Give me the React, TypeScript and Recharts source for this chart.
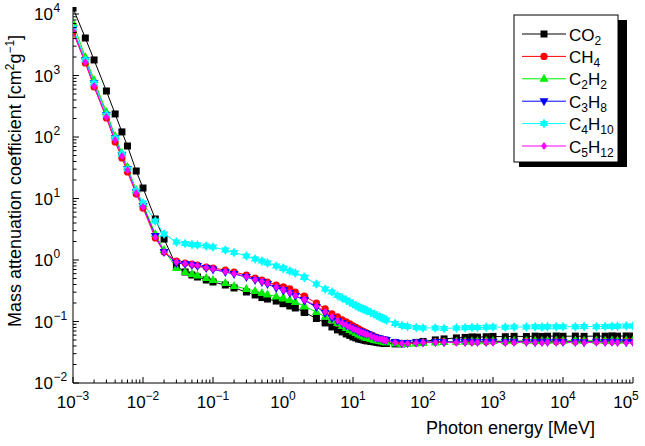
import React from 'react';
import { LineChart, Line, XAxis, YAxis } from 'recharts';

// Photon energies [MeV]
const ENERGY_MEV = [
  0.001, 0.0015, 0.002, 0.003, 0.004, 0.005, 0.006, 0.008,
  0.01, 0.015, 0.02, 0.03, 0.04, 0.05, 0.06, 0.08,
  0.1, 0.15, 0.2, 0.3, 0.4, 0.5, 0.6, 0.8,
  1, 1.022, 1.25, 1.5, 2, 2.044, 3, 4, 5, 6, 7, 8, 9,
  10, 11, 12, 13, 14, 15, 16, 18, 20, 22, 24, 26, 28, 30,
  40, 50, 60, 80,
  100, 150, 200, 300, 400, 500, 600, 800,
  1000, 1500, 2000, 3000, 4000, 5000, 6000, 8000,
  10000, 15000, 20000, 30000, 40000, 50000, 60000, 80000, 100000,
];

const CO2 = [
  12500, 4070, 1790, 560, 237, 121, 71.4, 28.0,
  14.8, 4.64, 2.19, 0.8, 0.638, 0.57, 0.529, 0.473,
  0.439, 0.392, 0.351, 0.302, 0.27, 0.245, 0.232, 0.215,
  0.196, 0.195, 0.179, 0.166, 0.143, 0.14, 0.112, 0.0948, 0.0816, 0.073, 0.0677, 0.0628, 0.0594,
  0.0561, 0.0541, 0.0521, 0.0511, 0.0502, 0.0492, 0.0483, 0.0474, 0.0466, 0.0457, 0.0449, 0.0449, 0.044, 0.044,
  0.0432, 0.0432, 0.044, 0.0457,
  0.0474, 0.0502, 0.0521, 0.0541, 0.0551, 0.0561, 0.0558, 0.0565,
  0.0572, 0.0566, 0.0574, 0.057, 0.0578, 0.0572, 0.0576, 0.0581,
  0.0575, 0.0579, 0.0574, 0.058, 0.0577, 0.0583, 0.0578, 0.0582, 0.058,
];

const CH4 = [
  5095, 1600, 650, 204, 82.9, 45.6, 27.0, 11.8,
  7.0, 2.28, 1.35, 0.963, 0.894, 0.861, 0.829, 0.769,
  0.741, 0.688, 0.638, 0.57, 0.51, 0.473, 0.439, 0.392,
  0.364, 0.362, 0.338, 0.302, 0.26, 0.255, 0.2, 0.16, 0.133, 0.119, 0.106, 0.0984, 0.0913,
  0.0848, 0.08, 0.0758, 0.0716, 0.069, 0.0665, 0.064, 0.0605, 0.0572, 0.0551, 0.0531, 0.0511, 0.0502, 0.0483,
  0.0457, 0.044, 0.044, 0.0449,
  0.0457, 0.0466, 0.047, 0.0466, 0.0472, 0.0468, 0.0474, 0.047,
  0.0476, 0.047, 0.0474, 0.0478, 0.0472, 0.0476, 0.048, 0.0474,
  0.0478, 0.0474, 0.048, 0.0476, 0.0481, 0.0477, 0.0479, 0.0482, 0.0478,
];

const C2H2 = [
  7140, 2000, 845, 255, 104, 54.9, 32.5, 13.7,
  8.14, 2.65, 1.454, 0.741, 0.638, 0.592, 0.56, 0.51,
  0.473, 0.423, 0.378, 0.338, 0.313, 0.291, 0.275, 0.255,
  0.241, 0.236, 0.224, 0.208, 0.179, 0.176, 0.143, 0.119, 0.106, 0.0948, 0.0848, 0.0786, 0.073,
  0.069, 0.0652, 0.0617, 0.0594, 0.0572, 0.0551, 0.0541, 0.0521, 0.0502, 0.0492, 0.0483, 0.0474, 0.0466, 0.0457,
  0.044, 0.0432, 0.0432, 0.044,
  0.0449, 0.0457, 0.0466, 0.047, 0.0474, 0.0478, 0.0476, 0.0481,
  0.0484, 0.048, 0.0486, 0.0483, 0.0488, 0.0484, 0.0487, 0.049,
  0.0486, 0.0489, 0.0485, 0.049, 0.0487, 0.0491, 0.0488, 0.049, 0.0489,
];

const C3H8 = [
  5700, 1787, 755, 228, 96.3, 51, 30.2, 12.8,
  7.55, 2.46, 1.349, 0.894, 0.861, 0.829, 0.799, 0.741,
  0.701, 0.638, 0.592, 0.529, 0.473, 0.439, 0.407, 0.351,
  0.325, 0.319, 0.291, 0.26, 0.224, 0.219, 0.172, 0.138, 0.114, 0.102, 0.0948, 0.088, 0.0816,
  0.0772, 0.073, 0.0703, 0.0677, 0.0652, 0.064, 0.0628, 0.0594, 0.0561, 0.0541, 0.0531, 0.0521, 0.0511, 0.0502,
  0.0466, 0.0449, 0.0449, 0.0457,
  0.0457, 0.0466, 0.0462, 0.0468, 0.0464, 0.047, 0.0466, 0.0463,
  0.0468, 0.0464, 0.0469, 0.0465, 0.0461, 0.0467, 0.0463, 0.0468,
  0.0464, 0.0466, 0.0462, 0.0467, 0.0463, 0.0468, 0.0465, 0.0461, 0.0466,
];

const C4H10 = [
  5920, 1787, 755, 228, 96.3, 52.9, 30.2, 13.2,
  8.45, 4.31, 2.65, 1.962, 1.855, 1.787, 1.754, 1.689,
  1.627, 1.454, 1.325, 1.161, 1.038, 0.963, 0.894, 0.799,
  0.741, 0.727, 0.662, 0.615, 0.529, 0.519, 0.407, 0.338, 0.302, 0.265, 0.241, 0.224, 0.208,
  0.193, 0.182, 0.172, 0.166, 0.16, 0.154, 0.149, 0.14, 0.133, 0.125, 0.119, 0.114, 0.11, 0.106,
  0.093, 0.0864, 0.0832, 0.0801,
  0.0786, 0.0786, 0.0772, 0.0786, 0.079, 0.0801, 0.0796, 0.0805,
  0.0816, 0.0808, 0.0816, 0.0812, 0.082, 0.0816, 0.0822, 0.0818,
  0.0824, 0.082, 0.0828, 0.0824, 0.0832, 0.0836, 0.084, 0.0844, 0.0848,
];

const C5H12 = [
  5290, 1658, 675, 211, 89.4, 49.1, 29.1, 12.3,
  7.28, 2.37, 1.349, 0.928, 0.877, 0.845, 0.814, 0.755,
  0.714, 0.65, 0.603, 0.539, 0.482, 0.447, 0.415, 0.364,
  0.332, 0.325, 0.296, 0.265, 0.228, 0.224, 0.179, 0.143, 0.119, 0.104, 0.0948, 0.088, 0.0816,
  0.0772, 0.073, 0.0703, 0.0677, 0.0652, 0.0628, 0.0617, 0.0583, 0.0551, 0.0531, 0.0521, 0.0511, 0.0502, 0.0492,
  0.0457, 0.044, 0.044, 0.0449,
  0.0457, 0.0457, 0.0461, 0.0455, 0.046, 0.0456, 0.0462, 0.0458,
  0.0455, 0.046, 0.0456, 0.0461, 0.0457, 0.0453, 0.0459, 0.0455,
  0.046, 0.0456, 0.0452, 0.0458, 0.0454, 0.0459, 0.0455, 0.0451, 0.0456,
];

const X_DOMAIN: [number, number] = [1e-3, 1e5];
const Y_DOMAIN: [number, number] = [1e-2, 1.3e4];
const X_EXPONENTS = [-3, -2, -1, 0, 1, 2, 3, 4, 5];
const Y_EXPONENTS = [-2, -1, 0, 1, 2, 3, 4];
const FRAME_TICKS = [0.1, 0.2, 0.3, 0.4, 0.5, 0.6, 0.7, 0.8, 0.9];

const X_TITLE = 'Photon energy [MeV]';
const Y_TITLE_PARTS: [string, 'n' | 'sup'][] = [
  ['Mass attenuation coefficient [cm', 'n'],
  ['2', 'sup'],
  ['g', 'n'],
  ['\u22121', 'sup'],
  [']', 'n'],
];

type Shape = 'square' | 'circle' | 'triUp' | 'triDown' | 'hexagram' | 'diamond';

const SERIES: { key: string; label: [string, boolean][]; color: string; shape: Shape; values: number[] }[] = [
  { key: 'CO2', label: [['CO', false], ['2', true]], color: '#000000', shape: 'square', values: CO2 },
  { key: 'CH4', label: [['CH', false], ['4', true]], color: '#ff0000', shape: 'circle', values: CH4 },
  { key: 'C2H2', label: [['C', false], ['2', true], ['H', false], ['2', true]], color: '#00ee00', shape: 'triUp', values: C2H2 },
  { key: 'C3H8', label: [['C', false], ['3', true], ['H', false], ['8', true]], color: '#0000ff', shape: 'triDown', values: C3H8 },
  { key: 'C4H10', label: [['C', false], ['4', true], ['H', false], ['10', true]], color: '#00ffff', shape: 'hexagram', values: C4H10 },
  { key: 'C5H12', label: [['C', false], ['5', true], ['H', false], ['12', true]], color: '#ff00ff', shape: 'diamond', values: C5H12 },
];

const DATA = ENERGY_MEV.map((E, i) => {
  const row: Record<string, number> = { E };
  SERIES.forEach((s) => {
    row[s.key] = s.values[i];
  });
  return row;
});

function logTicks(exps: number[], max: number): number[] {
  const out: number[] = [];
  exps.forEach((e) => {
    for (let k = 1; k <= 9; k++) {
      const v = k * Math.pow(10, e);
      if (v <= max * 1.0000001) out.push(v);
    }
  });
  return out;
}

const X_TICKS = logTicks(X_EXPONENTS, X_DOMAIN[1]);
const Y_TICKS = logTicks(Y_EXPONENTS, Y_DOMAIN[1]);

const FONT = "'Liberation Sans', Arial, Helvetica, sans-serif";

function majorExp(v: number): number | null {
  const e = Math.round(Math.log10(v));
  return Math.abs(v / Math.pow(10, e) - 1) < 1e-6 ? e : null;
}

function expText(e: number): string {
  return e < 0 ? '\u2212' + String(-e) : String(e);
}

const XTick = (p: any) => {
  const { x, y, payload } = p;
  const e = majorExp(payload.value);
  const len = e !== null ? 6 : 3.5;
  const shift = e === X_EXPONENTS[X_EXPONENTS.length - 1] ? -7 : 0;
  return (
    <g>
      <line x1={x} x2={x} y1={y} y2={y - len} stroke="#000" strokeWidth={1} />
      {e !== null && (
        <text x={x + shift} y={y + 25} textAnchor="middle" fontSize={17} fontFamily={FONT} fill="#000">
          10
          <tspan dy={-8} fontSize={12}>{expText(e)}</tspan>
        </text>
      )}
    </g>
  );
};

const YTick = (p: any) => {
  const { x, y, payload } = p;
  const e = majorExp(payload.value);
  const len = e !== null ? 6 : 3.5;
  return (
    <g>
      <line x1={x} x2={x + len} y1={y} y2={y} stroke="#000" strokeWidth={1} />
      {e !== null && (
        <g>
          <text x={x - 20} y={y + 6} textAnchor="end" fontSize={17} fontFamily={FONT} fill="#000">10</text>
          <text x={x - 19.5} y={y - 2} textAnchor="start" fontSize={12} fontFamily={FONT} fill="#000">{expText(e)}</text>
        </g>
      )}
    </g>
  );
};

const TopTick = (p: any) => {
  const { x, y } = p;
  return <line x1={x} x2={x} y1={y} y2={y + 5} stroke="#000" strokeWidth={1} />;
};

const RightTick = (p: any) => {
  const { x, y } = p;
  return <line x1={x} x2={x - 5} y1={y} y2={y} stroke="#000" strokeWidth={1} />;
};

function MarkerGlyph({ shape, cx, cy, color }: { shape: Shape; cx: number; cy: number; color: string }) {
  switch (shape) {
    case 'square':
      return <rect x={cx - 3.5} y={cy - 3.5} width={7} height={7} fill={color} />;
    case 'circle':
      return <circle cx={cx} cy={cy} r={3.6} fill={color} />;
    case 'triUp':
      return <polygon points={`${cx},${cy - 5} ${cx - 4.5},${cy + 3} ${cx + 4.5},${cy + 3}`} fill={color} />;
    case 'triDown':
      return <polygon points={`${cx - 4.5},${cy - 3} ${cx + 4.5},${cy - 3} ${cx},${cy + 5}`} fill={color} />;
    case 'hexagram': {
      const r = 5;
      const tri = (a0: number) =>
        [0, 120, 240]
          .map((d) => {
            const a = ((a0 + d) * Math.PI) / 180;
            return `${cx + r * Math.cos(a)},${cy + r * Math.sin(a)}`;
          })
          .join(' ');
      return (
        <g>
          <polygon points={tri(-90)} fill={color} />
          <polygon points={tri(90)} fill={color} />
        </g>
      );
    }
    case 'diamond':
    default:
      return <polygon points={`${cx},${cy - 4} ${cx + 3},${cy} ${cx},${cy + 4} ${cx - 3},${cy}`} fill={color} />;
  }
}

const makeDot = (s: (typeof SERIES)[number]) => (p: any) => {
  const k = `${s.key}-${p.index}`;
  if (p.cx == null || p.cy == null || isNaN(p.cx) || isNaN(p.cy)) return <g key={k} />;
  return (
    <g key={k}>
      <MarkerGlyph shape={s.shape} cx={p.cx} cy={p.cy} color={s.color} />
    </g>
  );
};

function Overlay() {
  const boxX = 514;
  const boxY = 15;
  const boxW = 104;
  const boxH = 147;
  const rowY0 = 34;
  const rowGap = 22.4;
  return (
    <svg width={645} height={446} style={{ position: 'absolute', left: 0, top: 0, pointerEvents: 'none' }}>
      <text
        transform="rotate(-90)"
        x={-181}
        y={21}
        textAnchor="middle"
        fontSize={18}
        fontFamily={FONT}
        fill="#000"
      >
        {Y_TITLE_PARTS.map(([t, kind], i) => {
          const prev = i > 0 ? Y_TITLE_PARTS[i - 1][1] : 'n';
          let dy = 0;
          if (kind === 'sup' && prev !== 'sup') dy = -7;
          if (kind !== 'sup' && prev === 'sup') dy = 7;
          return (
            <tspan key={i} dy={dy} fontSize={kind === 'sup' ? 12 : 18}>
              {t}
            </tspan>
          );
        })}
      </text>
      <text x={595} y={434} textAnchor="end" fontSize={18} fontFamily={FONT} fill="#000">
        {X_TITLE}
      </text>

      <rect x={boxX + 5} y={boxY + 5} width={boxW + 4} height={boxH} fill="#000" />
      <rect x={boxX} y={boxY} width={boxW} height={boxH} fill="#fff" stroke="#000" strokeWidth={1} />
      {SERIES.map((s, i) => {
        const cy = rowY0 + i * rowGap;
        return (
          <g key={s.key}>
            <line x1={522} x2={566} y1={cy} y2={cy} stroke={s.color} strokeWidth={1} />
            <MarkerGlyph shape={s.shape} cx={544} cy={cy} color={s.color} />
            <text x={569} y={cy + 6.5} fontSize={17} fontFamily={FONT} fill="#000">
              {s.label.map(([t, sub], j) => {
                const prevSub = j > 0 ? s.label[j - 1][1] : false;
                let dy = 0;
                if (sub && !prevSub) dy = 4;
                if (!sub && prevSub) dy = -4;
                return (
                  <tspan key={j} dy={dy} fontSize={sub ? 12 : 17}>
                    {t}
                  </tspan>
                );
              })}
            </text>
          </g>
        );
      })}
    </svg>
  );
}

export default function App() {
  return (
    <div style={{ position: 'absolute', left: 0, top: 0, width: 645, height: 446, background: '#fff' }}>
      <LineChart width={645} height={446} data={DATA} margin={{ top: 7, right: 12, bottom: 0, left: 0 }}>
        <XAxis
          dataKey="E"
          type="number"
          scale="log"
          domain={X_DOMAIN}
          allowDataOverflow
          ticks={X_TICKS}
          interval={0}
          tickSize={0}
          tickMargin={0}
          tickLine={false}
          axisLine={{ stroke: '#000', strokeWidth: 1 }}
          tick={(p: any) => <XTick {...p} />}
          height={63}
        />
        <YAxis
          type="number"
          scale="log"
          domain={Y_DOMAIN}
          allowDataOverflow
          ticks={Y_TICKS}
          interval={0}
          tickSize={0}
          tickMargin={0}
          tickLine={false}
          axisLine={{ stroke: '#000', strokeWidth: 1 }}
          tick={(p: any) => <YTick {...p} />}
          width={73}
        />
        <XAxis
          xAxisId="top"
          orientation="top"
          type="number"
          domain={[0, 1]}
          allowDataOverflow
          ticks={FRAME_TICKS}
          interval={0}
          tickSize={0}
          tickMargin={0}
          tickLine={false}
          axisLine={{ stroke: '#000', strokeWidth: 1 }}
          tick={(p: any) => <TopTick {...p} />}
          height={0}
        />
        <YAxis
          yAxisId="right"
          orientation="right"
          type="number"
          domain={[0, 1]}
          allowDataOverflow
          ticks={FRAME_TICKS}
          interval={0}
          tickSize={0}
          tickMargin={0}
          tickLine={false}
          axisLine={{ stroke: '#000', strokeWidth: 1 }}
          tick={(p: any) => <RightTick {...p} />}
          width={0}
        />
        {SERIES.map((s) => (
          <Line
            key={s.key}
            type="linear"
            dataKey={s.key}
            stroke={s.color}
            strokeWidth={1}
            dot={makeDot(s)}
            activeDot={false}
            isAnimationActive={false}
          />
        ))}
      </LineChart>
      <Overlay />
    </div>
  );
}
